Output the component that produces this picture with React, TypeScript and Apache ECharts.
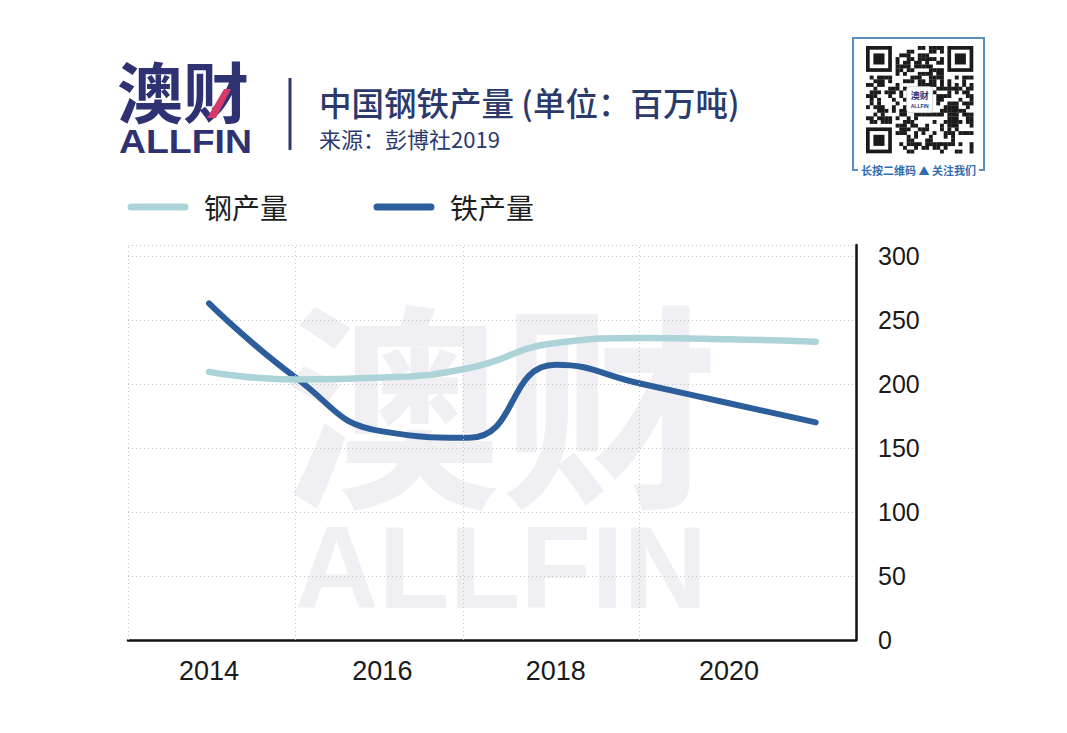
import React, { useEffect, useRef } from "react";
import * as echarts from "echarts";

// ---- data ----
const years = [2014, 2015, 2016, 2017, 2018, 2019, 2020, 2021];
const steelOutput = [209.5, 203.5, 205, 212.5, 232, 236, 235, 233];
const ironOutput = [263, 205, 163, 158, 215, 200, 185, 170];
const xLabelYears = [2014, 2016, 2018, 2020];
const xGridLines = [2013.065, 2015, 2016.93, 2018.96];
const seriesNames = ["钢产量", "铁产量"];

const X_MIN = 2013.065;
const X_MAX = 2021.465;
const Y_MAX = 308.6;

const STEEL = "#acd4d8";
const IRON = "#2c5e9c";
const NAVY = "#2b3a6b";
const LOGO = "#2e3172";
const WM = "#f0f0f4";

function buildQr(): any[] {
  const els: any[] = [];
  const n = 29;
  const x0 = 866;
  const y0 = 46;
  const m = 3.7;
  let seed = 987654321;
  const rnd = () => {
    seed = (seed * 1103515245 + 12345) & 0x7fffffff;
    return seed / 0x7fffffff;
  };
  const inFinder = (r: number, c: number) =>
    (r < 8 && c < 8) || (r < 8 && c >= n - 8) || (r >= n - 8 && c < 8);
  const inCenter = (r: number, c: number) => r >= 11 && r <= 17 && c >= 11 && c <= 17;
  for (let r = 0; r < n; r++) {
    for (let c = 0; c < n; c++) {
      const v = rnd();
      if (inFinder(r, c) || inCenter(r, c)) continue;
      if (v < 0.5) {
        els.push({
          type: "rect",
          shape: { x: x0 + c * m, y: y0 + r * m, width: m + 0.2, height: m + 0.2 },
          style: { fill: "#1b1b1b" },
          z: 10,
        });
      }
    }
  }
  const finders = [
    [0, 0],
    [0, n - 7],
    [n - 7, 0],
  ];
  finders.forEach(([r, c]) => {
    els.push({ type: "rect", shape: { x: x0 + c * m, y: y0 + r * m, width: 7 * m, height: 7 * m }, style: { fill: "#1b1b1b" }, z: 10 });
    els.push({ type: "rect", shape: { x: x0 + (c + 1) * m, y: y0 + (r + 1) * m, width: 5 * m, height: 5 * m }, style: { fill: "#fff" }, z: 11 });
    els.push({ type: "rect", shape: { x: x0 + (c + 2) * m, y: y0 + (r + 2) * m, width: 3 * m, height: 3 * m }, style: { fill: "#1b1b1b" }, z: 12 });
  });
  // centre logo
  els.push({ type: "rect", shape: { x: x0 + 11 * m, y: y0 + 11 * m, width: 7 * m, height: 7 * m, r: 3 }, style: { fill: "#fff", stroke: "#ccc", lineWidth: 0.8 }, z: 12 });
  els.push({ type: "text", x: x0 + 14.5 * m, y: y0 + 13.4 * m, style: { text: "澳财", fill: LOGO, fontSize: 9, fontWeight: "bold", fontFamily: "Noto Sans CJK SC", align: "center", verticalAlign: "middle", lineHeight: 9 }, z: 13 });
  els.push({ type: "text", x: x0 + 14.5 * m, y: y0 + 16.3 * m, style: { text: "ALLFIN", fill: LOGO, fontSize: 5, fontWeight: "bold", fontFamily: "Liberation Sans", align: "center", verticalAlign: "middle", lineHeight: 5 }, z: 13 });
  // frame
  els.push({ type: "rect", shape: { x: 853, y: 38, width: 131, height: 132 }, style: { fill: "none", stroke: "#5a8fbb", lineWidth: 2 }, z: 9 });
  els.push({ type: "rect", shape: { x: 858, y: 163, width: 121, height: 14 }, style: { fill: "#fff" }, z: 10 });
  els.push({ type: "text", x: 918.5, y: 170, style: { text: "长按二维码 ▲ 关注我们", fill: "#2f6db0", fontSize: 11, fontWeight: "bold", fontFamily: "Noto Sans CJK SC", align: "center", verticalAlign: "middle" }, z: 11 });
  return els;
}

export default function App() {
  const ref = useRef<HTMLDivElement>(null);

  useEffect(() => {
    document.body.style.margin = "0";
    if (!ref.current) return;
    const chart = echarts.init(ref.current, undefined, { renderer: "svg" });

    const graphics: any[] = [
      // watermark (one rich text block)
      {
        type: "text",
        x: 501,
        y: 456,
        z: -1,
        silent: true,
        style: {
          text: "{a|澳财}\n{b|ALLFIN}",
          align: "center",
          verticalAlign: "middle",
          fill: WM,
          rich: {
            a: { fill: WM, fontSize: 218, fontWeight: "bold", fontFamily: "Noto Sans CJK SC", lineHeight: 224, align: "center" },
            b: { fill: WM, fontSize: 116, fontWeight: "bold", fontFamily: "Liberation Sans", lineHeight: 120, align: "center" },
          },
        },
      },
      // logo
      { type: "text", x: 117, y: 89, z: 10, style: { text: "澳财", fill: LOGO, fontSize: 66, fontWeight: "bold", fontFamily: "Noto Sans CJK SC", align: "left", verticalAlign: "middle", lineHeight: 64 } },
      { type: "polygon", z: 11, shape: { points: [[224, 89], [231, 89], [216, 118], [207, 118]] }, style: { fill: "#d63a6b" } },
      { type: "text", x: 119, y: 142, scaleX: 1.1, z: 10, style: { text: "ALLFIN", fill: LOGO, fontSize: 34, fontWeight: "bold", fontFamily: "Liberation Sans", align: "left", verticalAlign: "middle", lineHeight: 30 } },
      // separator
      { type: "line", z: 10, shape: { x1: 290, y1: 78, x2: 290, y2: 150 }, style: { stroke: NAVY, lineWidth: 3 } },
      // titles
      { type: "text", x: 319, y: 101, z: 10, style: { text: "中国钢铁产量 (单位：百万吨)", fill: NAVY, fontSize: 32.5, fontWeight: 500, fontFamily: "Noto Sans CJK SC", align: "left", verticalAlign: "middle" } },
      { type: "text", x: 319, y: 138, z: 10, style: { text: "来源：彭博社2019", fill: NAVY, fontSize: 22, fontFamily: "Noto Sans CJK SC", align: "left", verticalAlign: "middle" } },
      // legend
      { type: "line", z: 10, shape: { x1: 131, y1: 207, x2: 185, y2: 207 }, style: { stroke: STEEL, lineWidth: 7, lineCap: "round" } },
      { type: "text", x: 204, y: 207, z: 10, style: { text: seriesNames[0], fill: "#1e1e1e", fontSize: 28, fontFamily: "Noto Sans CJK SC", align: "left", verticalAlign: "middle" } },
      { type: "line", z: 10, shape: { x1: 377, y1: 207, x2: 431, y2: 207 }, style: { stroke: IRON, lineWidth: 7, lineCap: "round" } },
      { type: "text", x: 450, y: 207, z: 10, style: { text: seriesNames[1], fill: "#1e1e1e", fontSize: 28, fontFamily: "Noto Sans CJK SC", align: "left", verticalAlign: "middle" } },
      ...buildQr(),
    ];

    chart.setOption({
      animation: false,
      backgroundColor: "#ffffff",
      grid: { left: 128, right: 211, top: 245, bottom: 93, containLabel: false },
      xAxis: {
        type: "value",
        min: X_MIN,
        max: X_MAX,
        axisLine: { show: true, onZero: false, lineStyle: { color: "#111", width: 2.5 } },
        axisTick: { show: false },
        splitLine: { show: false },
        axisLabel: {
          customValues: xLabelYears,
          formatter: (v: number) => String(v),
          fontSize: 27,
          margin: 17,
          color: "#1a1a1a",
          fontFamily: "Liberation Sans",
        },
      },
      yAxis: {
        type: "value",
        position: "right",
        min: 0,
        max: Y_MAX,
        interval: 50,
        axisLine: { show: true, lineStyle: { color: "#111", width: 2.5 } },
        axisTick: { show: false },
        splitLine: { show: true, lineStyle: { color: "#c4c4c4", width: 1, type: [1, 3] } },
        axisLabel: {
          formatter: (v: number) => (v % 50 === 0 ? String(v) : ""),
          fontSize: 25,
          margin: 22,
          color: "#1a1a1a",
          fontFamily: "Liberation Sans",
        },
      },
      graphic: graphics,
      series: [
        {
          type: "line",
          name: "grid",
          data: [],
          silent: true,
          z: 1,
          markLine: {
            silent: true,
            symbol: "none",
            label: { show: false },
            lineStyle: { color: "#c4c4c4", width: 1, type: [1, 3] },
            data: xGridLines.map((x) => ({ xAxis: x })),
          },
        },
        {
          type: "line",
          name: seriesNames[1],
          data: years.map((y, i) => [y, ironOutput[i]]),
          smooth: true,
          symbol: "none",
          silent: true,
          lineStyle: { color: IRON, width: 6, cap: "round", join: "round" },
          z: 3,
        },
        {
          type: "line",
          name: seriesNames[0],
          data: years.map((y, i) => [y, steelOutput[i]]),
          smooth: true,
          symbol: "none",
          silent: true,
          lineStyle: { color: STEEL, width: 6.5, cap: "round", join: "round" },
          z: 4,
        },
      ],
    });

    return () => chart.dispose();
  }, []);

  return <div ref={ref} style={{ width: 1067, height: 733 }} />;
}
